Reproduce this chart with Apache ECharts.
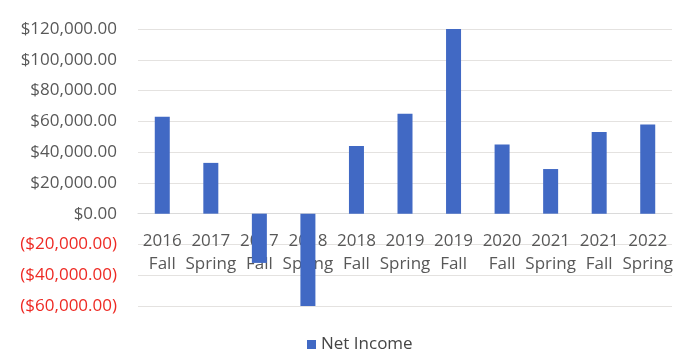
<!DOCTYPE html>
<html>
<head>
<meta charset="utf-8">
<script src="https://cdn.jsdelivr.net/npm/echarts@6/dist/echarts.min.js"></script>
<style>
  html, body { margin: 0; padding: 0; background: #ffffff; }
  #chart { width: 690px; height: 351px; }
</style>
</head>
<body>
<div id="chart"></div>
<script>
// Semester labels (two lines each: year / term)
const semesters = [
  '2016\nFall', '2017\nSpring', '2017\nFall', '2018\nSpring', '2018\nFall',
  '2019\nSpring', '2019\nFall', '2020\nFall', '2021\nSpring', '2021\nFall', '2022\nSpring'
];
// Net income per semester, in dollars
const netIncome = [63000, 33000, -32000, -60000, 44000, 65000, 120000, 45000, 29000, 53000, 58000];
// Value axis range
const yMin = -60000;
const yMax = 120000;
const yStep = 20000;

function money(v) {
  const s = '$' + Math.abs(v).toLocaleString('en-US', { minimumFractionDigits: 2, maximumFractionDigits: 2 });
  return v < 0 ? '(' + s + ')' : s;
}

// Plot area box
const gridTop = 29, gridBottom = 45, chartH = 351;
const plotH = chartH - gridTop - gridBottom;
// Lift the category axis from the bottom edge up to the zero line
const zeroLift = (0 - yMin) / (yMax - yMin) * plotH;

const chart = echarts.init(document.getElementById('chart'));
chart.setOption({
  animation: false,
  textStyle: { fontFamily: 'Open Sans' },
  grid: { left: 138, right: 18, top: gridTop, bottom: gridBottom, outerBoundsMode: 'none', containLabel: false },
  legend: {
    top: 331,
    left: 302,
    itemWidth: 9,
    itemHeight: 9,
    icon: 'rect',
    itemGap: 5,
    textStyle: { fontSize: 17, color: '#454545', fontFamily: 'Open Sans' },
    data: ['Net Income']
  },
  xAxis: {
    type: 'category',
    data: semesters,
    offset: -zeroLift,
    axisLine: { onZero: false, lineStyle: { color: '#dadada' } },
    axisTick: { show: false },
    axisLabel: {
      interval: 0,
      fontSize: 17,
      lineHeight: 23,
      color: '#585858',
      margin: 16,
      fontFamily: 'Open Sans'
    }
  },
  yAxis: {
    type: 'value',
    min: yMin,
    max: yMax,
    interval: yStep,
    axisLine: { show: false },
    axisTick: { show: false },
    splitLine: { lineStyle: { color: '#e4e2e0', width: 1 } },
    axisLabel: {
      fontSize: 17,
      margin: 21,
      fontFamily: 'Open Sans',
      formatter: money,
      color: function (v) { return v < 0 ? '#ee2a24' : '#585858'; }
    }
  },
  series: [{
    name: 'Net Income',
    type: 'bar',
    data: netIncome,
    barWidth: 15,
    itemStyle: { color: '#4169c4' }
  }]
});
</script>
</body>
</html>
